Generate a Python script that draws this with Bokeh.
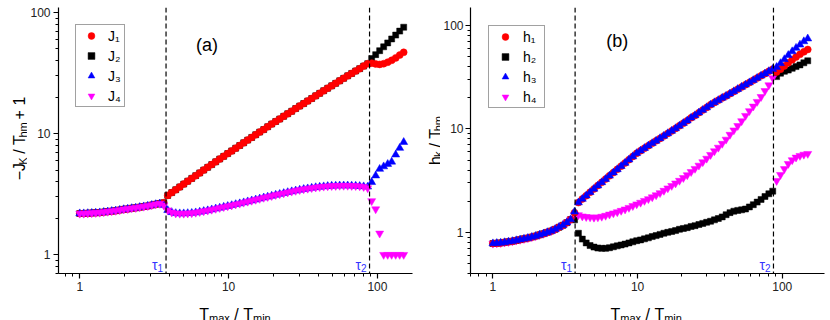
from math import log10, pi
from bokeh.plotting import figure
from bokeh.models import (Span, Label, Legend, LegendItem, FixedTicker,
                          BasicTickFormatter, Range1d, ColumnDataSource)
from bokeh.layouts import row, column
from bokeh.embed import file_html
from bokeh.resources import INLINE

FONT = "Liberation Sans"
NB = "\u00a0"   # non-breaking space (SVG would collapse ordinary edge spaces)

# ---------------- data ----------------
X_PRE = [1.000, 1.064, 1.132, 1.204, 1.281, 1.363, 1.450, 1.542, 1.640, 1.745,
         1.857, 1.975, 2.101, 2.235, 2.378, 2.530, 2.691, 2.863, 3.046, 3.240,
         3.447, 3.667]
X_MID = [3.901, 4.150, 4.415, 4.697, 4.996, 5.315, 5.655, 6.015, 6.397, 6.806,
         7.240, 7.702, 8.194, 8.717, 9.273, 9.864, 10.49, 11.16, 11.88, 12.63,
         13.44, 14.30, 15.21, 16.18, 17.22, 18.31, 19.48, 20.73, 22.05, 23.46,
         24.95, 26.55, 28.24, 30.04, 31.96, 34.00, 36.17, 38.48, 40.93, 43.54,
         46.32, 49.27, 52.42, 55.76, 59.32, 63.11, 67.13, 71.42, 75.98, 80.82,
         85.98]
X_POST = [91.47, 97.31, 103.5, 110.1, 117.2, 124.6, 132.6, 141.1, 150.1]

# panel (a)
J12_PRE = [2.19, 2.19, 2.20, 2.21, 2.22, 2.23, 2.25, 2.27, 2.29, 2.31, 2.34,
           2.37, 2.39, 2.42, 2.44, 2.47, 2.50, 2.53, 2.57, 2.61, 2.65, 2.69]
J34_PRE = [2.19, 2.19, 2.20, 2.21, 2.22, 2.23, 2.25, 2.27, 2.29, 2.31, 2.34,
           2.37, 2.39, 2.42, 2.44, 2.47, 2.50, 2.53, 2.57, 2.61, 2.64, 2.56]
J12_MID = [3.09, 3.26, 3.44, 3.63, 3.83, 4.05, 4.27, 4.50, 4.74, 5.00, 5.27,
           5.55, 5.85, 6.17, 6.49, 6.84, 7.20, 7.58, 7.98, 8.40, 8.84, 9.30,
           9.79, 10.3, 10.8, 11.4, 12.0, 12.6, 13.2, 13.9, 14.6, 15.3, 16.1,
           16.9, 17.7, 18.6, 19.5, 20.5, 21.5, 22.6, 23.7, 24.8, 26.0, 27.3,
           28.6, 30.0, 31.4, 32.9, 34.4, 36.1, 37.8]
J3_MID = [2.33, 2.24, 2.20, 2.19, 2.19, 2.20, 2.21, 2.23, 2.26, 2.29, 2.32,
          2.36, 2.40, 2.44, 2.48, 2.52, 2.56, 2.61, 2.65, 2.70, 2.75, 2.80,
          2.85, 2.90, 2.96, 3.01, 3.06, 3.12, 3.17, 3.22, 3.28, 3.33, 3.38,
          3.43, 3.48, 3.52, 3.56, 3.60, 3.63, 3.66, 3.68, 3.70, 3.71, 3.72,
          3.72, 3.72, 3.71, 3.70, 3.68, 3.66, 3.64]
J4_MID = [2.33, 2.24, 2.20, 2.19, 2.19, 2.20, 2.21, 2.23, 2.26, 2.29, 2.32,
          2.36, 2.40, 2.44, 2.48, 2.52, 2.56, 2.61, 2.65, 2.70, 2.75, 2.80,
          2.85, 2.90, 2.96, 3.01, 3.06, 3.12, 3.17, 3.22, 3.28, 3.33, 3.38,
          3.43, 3.48, 3.52, 3.56, 3.60, 3.63, 3.66, 3.68, 3.70, 3.71, 3.72,
          3.72, 3.72, 3.71, 3.70, 3.68, 3.64, 3.55]
J1_POST = [38.2, 37.6, 37.3, 37.8, 38.9, 40.3, 42.2, 44.5, 46.9]
J2_POST = [41.7, 44.9, 48.4, 52.1, 56.1, 60.5, 65.1, 70.2, 75.6]
J3_POST = [3.97, 4.50, 5.10, 5.35, 5.60, 5.85, 6.70, 7.60, 8.50]
J4_POST = [2.78, 2.38, 1.50, 1.00, 1.00, 1.00, 1.00, 1.00, 1.00]

# panel (b)
H_PRE = [0.78, 0.785, 0.79, 0.80, 0.81, 0.82, 0.835, 0.85, 0.865, 0.88, 0.90,
         0.92, 0.945, 0.97, 1.00, 1.03, 1.07, 1.12, 1.17, 1.24, 1.33]
H_AT_TAU1 = {"h1": 1.55, "h2": 1.32, "h3": 1.58, "h4": 1.48}
H13_MID = [1.94, 2.10, 2.26, 2.44, 2.63, 2.83, 3.04, 3.27, 3.52, 3.78, 4.06,
           4.36, 4.68, 5.04, 5.41, 5.81, 6.15, 6.50, 6.87, 7.26, 7.66, 8.09,
           8.55, 9.04, 9.55, 10.1, 10.7, 11.35, 12.0, 12.8, 13.5, 14.35, 15.2,
           16.1, 17.1, 18.0, 18.9, 19.9, 20.8, 21.9, 23.0, 24.2, 25.4, 26.7,
           28.05, 29.5, 31.0, 32.6, 34.2, 36.0, 37.8]
H2_MID = [0.98, 0.86, 0.79, 0.745, 0.72, 0.705, 0.70, 0.70, 0.71, 0.725, 0.74,
          0.755, 0.77, 0.79, 0.81, 0.83, 0.845, 0.865, 0.885, 0.91, 0.93,
          0.955, 0.98, 1.00, 1.02, 1.04, 1.07, 1.09, 1.11, 1.14, 1.16, 1.19,
          1.22, 1.25, 1.28, 1.32, 1.36, 1.41, 1.48, 1.55, 1.60, 1.63, 1.65,
          1.68, 1.76, 1.85, 1.96, 2.08, 2.22, 2.36, 2.50]
H4_MID = [1.47, 1.43, 1.41, 1.40, 1.39, 1.40, 1.42, 1.45, 1.49, 1.53, 1.57,
          1.62, 1.67, 1.73, 1.80, 1.87, 1.94, 2.02, 2.10, 2.19, 2.29, 2.40,
          2.53, 2.67, 2.82, 2.98, 3.16, 3.36, 3.58, 3.84, 4.12, 4.43, 4.78,
          5.17, 5.62, 6.10, 6.60, 7.20, 7.90, 8.80, 9.70, 10.7, 11.9, 13.4,
          14.9, 16.5, 18.3, 20.4, 23.3, 26.5, 31.0]
H1_POST = [35.5, 37.8, 40.5, 43.5, 46.5, 49.5, 52.5, 55.5, 58.5]
H2_POST = [32.0, 34.5, 36.0, 37.0, 38.5, 40.0, 41.5, 43.5, 45.5]
H3_POST = [39.5, 43.0, 47.0, 51.5, 56.0, 60.5, 65.0, 70.0, 74.5]
H4_POST = [3.15, 3.60, 4.10, 4.60, 5.00, 5.30, 5.50, 5.65, 5.75]

TAU_A = [3.8, 88.5]
TAU_B = [3.7, 87.0]
MAJOR_TICKS = [1, 10, 100]
MINOR_TICKS = [0.4, 0.5, 0.6, 0.7, 0.8, 0.9, 2, 3, 4, 5, 6, 7, 8, 9,
               20, 30, 40, 50, 60, 70, 80, 90, 200]

X = X_PRE + X_MID + X_POST
J1 = J12_PRE + J12_MID + J1_POST
J2 = J12_PRE + J12_MID + J2_POST
J3 = J34_PRE + J3_MID + J3_POST
J4 = J34_PRE + J4_MID + J4_POST
H1 = H_PRE + [H_AT_TAU1["h1"]] + H13_MID + H1_POST
H2 = H_PRE + [H_AT_TAU1["h2"]] + H2_MID + H2_POST
H3 = H_PRE + [H_AT_TAU1["h3"]] + H13_MID + H3_POST
H4 = H_PRE + [H_AT_TAU1["h4"]] + H4_MID + H4_POST

# ---------------- layout (page pixels) ----------------
ROW_H = 297          # height of the plotting row
XL_H = 23            # height of the strip carrying the x-axis titles
FRAME_BOTTOM = 273

ADV = {'−': .584, 'J': .5, 'K': .667, ' ': .278, NB: .278, '/': .278,
       'T': .611, 'h': .556, 'm': .833, '+': .584, '1': .556, '2': .556,
       'a': .556, 'x': .5, 'i': .222, 'n': .556, 'k': .5, 'τ': .52}


def tw(s, size):
    return sum(ADV.get(c, .556) for c in s) * size


class Geo:
    """page-pixel -> data conversion for a log/log frame"""
    def __init__(self, left, fw, top, fh, xr, yr):
        self.left, self.fw, self.top, self.fh = left, fw, top, fh
        self.lx0, self.lx1 = log10(xr[0]), log10(xr[1])
        self.ly0, self.ly1 = log10(yr[0]), log10(yr[1])

    def x(self, px):
        return 10 ** (self.lx0 + (px - self.left) / self.fw * (self.lx1 - self.lx0))

    def y(self, py):
        return 10 ** (self.ly0 + (self.top + self.fh - py) / self.fh * (self.ly1 - self.ly0))

    def px(self, xv):
        return self.left + self.fw * (log10(xv) - self.lx0) / (self.lx1 - self.lx0)


def make_fig(page_x, width, left, right, top, xr, yr, ystand):
    p = figure(width=width, height=ROW_H, x_axis_type="log", y_axis_type="log",
               x_range=Range1d(*xr), y_range=Range1d(*yr),
               output_backend="svg", toolbar_location=None,
               title_location=None,
               min_border_left=left, min_border_right=right,
               min_border_top=top, min_border_bottom=ROW_H - FRAME_BOTTOM)
    p.outline_line_color = None
    p.grid.visible = False
    for ax, (lo, hi) in ((p.xaxis[0], xr), (p.yaxis[0], yr)):
        ax.ticker = FixedTicker(ticks=MAJOR_TICKS,
                                minor_ticks=[t for t in MINOR_TICKS if lo <= t <= hi])
        ax.formatter = BasicTickFormatter()
        ax.major_label_overrides = {1: "1", 10: "10", 100: "100"}
        ax.axis_line_color = "black"
        ax.axis_line_width = 1.2
        ax.major_tick_line_color = "black"
        ax.minor_tick_line_color = "black"
        ax.major_tick_line_width = 1.2
        ax.minor_tick_line_width = 1
        ax.major_tick_out = 5
        ax.major_tick_in = 0
        ax.minor_tick_out = 3
        ax.minor_tick_in = 0
        ax.major_label_text_font = FONT
        ax.major_label_text_font_size = "12px"
        ax.major_label_text_color = "#222222"
        ax.major_label_standoff = 3
    p.yaxis[0].major_label_standoff = ystand
    fw = width - left - right
    geo = Geo(page_x + left, fw, top, FRAME_BOTTOM - top, xr, yr)
    return p, geo


def blank_fig(width, height):
    p = figure(width=width, height=height, x_range=Range1d(0, width),
               y_range=Range1d(0, height), output_backend="svg",
               toolbar_location=None, title_location=None,
               x_axis_location=None, y_axis_location=None, min_border=0)
    p.outline_line_color = None
    p.grid.visible = False
    return p


def hlabel(p, page_x, page_bottom, pieces, px, py):
    for txt, size, shift in pieces:
        p.add_layout(Label(x=px - page_x, y=page_bottom - (py + shift), text=txt,
                           text_font=FONT, text_font_size=f"{size}px",
                           text_color="black", text_align="left",
                           text_baseline="alphabetic"))
        px += tw(txt, size)


def vlabel(p, page_x, page_bottom, pieces, px, py):
    for txt, size, shift in pieces:
        p.add_layout(Label(x=px + shift - page_x, y=page_bottom - py, text=txt,
                           angle=pi / 2, text_font=FONT,
                           text_font_size=f"{size}px", text_color="black",
                           text_align="left", text_baseline="alphabetic"))
        py -= tw(txt, size)


def tau_labels(p, g, taus):
    for k, t in enumerate(taus):
        xr = g.px(t) - 3
        p.add_layout(Label(x=g.x(xr), y=g.y(267), text=str(k + 1),
                           text_font=FONT, text_font_size="10px",
                           text_color="#3333ff", text_align="right",
                           text_baseline="alphabetic"))
        p.add_layout(Label(x=g.x(xr - tw("1", 10)), y=g.y(264), text="τ",
                           text_font=FONT, text_font_size="14px",
                           text_color="#3333ff", text_align="right",
                           text_baseline="alphabetic"))
        p.add_layout(Span(location=t, dimension="height", line_color="black",
                          line_width=1.2, line_dash="5 3"))


def style_legend(leg, gw, stand, lw, margin):
    leg.location = "top_left"
    leg.margin = margin
    leg.label_text_font = FONT
    leg.label_text_font_size = "14px"
    leg.label_text_color = "black"
    leg.border_line_color = "#444444"
    leg.border_line_width = 1
    leg.background_fill_color = "white"
    leg.background_fill_alpha = 1
    leg.padding = 2
    leg.spacing = 3
    leg.glyph_height = 17
    leg.label_height = 17
    leg.glyph_width = gw
    leg.label_standoff = stand
    leg.label_width = lw


def pts(p, y, marker, color, size):
    src = ColumnDataSource(dict(x=X, y=y))
    return p.scatter("x", "y", source=src, marker=marker, size=size,
                     fill_color=color, line_color=color, line_width=0.5)


# ---------------- panel (a) ----------------
YA_W = 27
PA_W = 418 - YA_W
pa, ga = make_fig(YA_W, PA_W, 30, 6, 2, (0.72, 172), (0.7, 110), 3)
rJ2 = pts(pa, J2, "square", "black", 6)
rJ1 = pts(pa, J1, "circle", "red", 7)
rJ3 = pts(pa, J3, "triangle", "blue", 8)
rJ4 = pts(pa, J4, "inverted_triangle", "magenta", 8)
tau_labels(pa, ga, TAU_A)
leg_a = Legend(items=[LegendItem(label="J₁", renderers=[rJ1]),
                      LegendItem(label="J₂", renderers=[rJ2]),
                      LegendItem(label="J₃", renderers=[rJ3]),
                      LegendItem(label="J₄", renderers=[rJ4])])
style_legend(leg_a, 26, 4, 14, 17)
pa.add_layout(leg_a)
pa.add_layout(Label(x=ga.x(205.8), y=ga.y(40), text="(a)", text_font=FONT,
                    text_font_size="18px", text_color="black",
                    text_align="center", text_baseline="middle"))

# ---------------- panel (b) ----------------
YB_X = 418
YB_W = 22
PB_X = YB_X + YB_W
pb, gb = make_fig(PB_X, 830 - PB_X, 27, 6, 7, (0.7, 196), (0.4, 149), 2)
rH2 = pts(pb, H2, "square", "black", 6)
rH4 = pts(pb, H4, "inverted_triangle", "magenta", 8)
rH1 = pts(pb, H1, "circle", "red", 7)
rH3 = pts(pb, H3, "triangle", "blue", 8)
tau_labels(pb, gb, TAU_B)
leg_b = Legend(items=[LegendItem(label="h₁", renderers=[rH1]),
                      LegendItem(label="h₂", renderers=[rH2]),
                      LegendItem(label="h₃", renderers=[rH3]),
                      LegendItem(label="h₄", renderers=[rH4])])
style_legend(leg_b, 28, 4, 19, 18)
pb.add_layout(leg_b)
pb.add_layout(Label(x=gb.x(615), y=gb.y(40), text="(b)", text_font=FONT,
                    text_font_size="18px", text_color="black",
                    text_align="center", text_baseline="middle"))

# ---------------- axis titles ----------------
ya = blank_fig(YA_W, ROW_H)
vlabel(ya, 0, ROW_H, [("−J", 16, 0), ("K", 11, 3.5), (f"{NB}/{NB}T", 16, 0),
                      ("hm", 11, 3.5), (f"{NB}+{NB}1", 16, 0)], 19.3, 193)
yb = blank_fig(YB_W, ROW_H)
vlabel(yb, YB_X, ROW_H, [("h", 16, 0), ("k", 11, 3), (f"{NB}/{NB}T", 16, 0),
                         ("hm", 11, 3)], 434.5, 175.8)

xl = blank_fig(830, XL_H)
XT = [("T", 16, 0), ("max", 11, 3), (f"{NB}/{NB}T", 16, 0), ("min", 11, 3)]
xt_w = sum(tw(t, s) for t, s, _ in XT)
hlabel(xl, 0, 320, XT, 234.5 - xt_w / 2, 314)
hlabel(xl, 0, 320, XT, 645.7 - xt_w / 2, 314)

layout = column(row(ya, pa, yb, pb), xl)
open("out.html", "w").write(file_html(layout, INLINE))
